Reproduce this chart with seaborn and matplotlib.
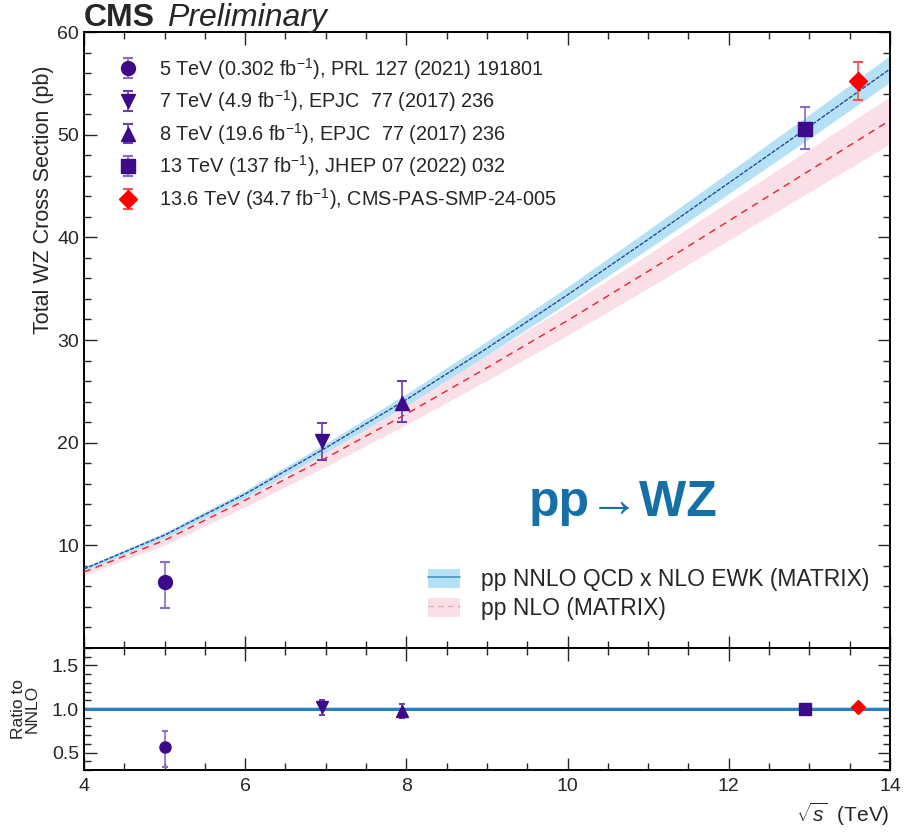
import numpy as np
import pandas as pd
import matplotlib
matplotlib.use("Agg")
import matplotlib.pyplot as plt
import seaborn as sns
from matplotlib.ticker import MultipleLocator, FixedLocator
from matplotlib.patches import Patch
from matplotlib.lines import Line2D

# ---------------- data ----------------
sqrt_s_theory = [4, 5, 6, 7, 8, 9, 10, 11, 12, 13, 14]
nnlo_xs = [7.7, 11.0, 15.0, 19.5, 24.2, 29.2, 34.4, 39.8, 45.3, 50.8, 56.4]
nnlo_unc = [0.18, 0.25, 0.35, 0.45, 0.56, 0.67, 0.79, 0.92, 1.04, 1.17, 1.30]
nlo_xs = [7.4, 10.5, 14.4, 18.5, 22.8, 27.3, 31.9, 36.7, 41.6, 46.5, 51.4]
nlo_unc = [0.33, 0.47, 0.65, 0.83, 1.03, 1.23, 1.44, 1.65, 1.87, 2.09, 2.31]

meas_x = [5.0, 6.95, 7.95, 12.95, 13.6]
meas_xs = [6.4, 20.2, 23.9, 50.6, 55.2]
meas_up = [2.0, 1.7, 2.1, 2.1, 1.9]
meas_dn = [2.5, 1.9, 1.9, 2.0, 1.8]
ratio = [0.57, 1.02, 0.98, 1.00, 1.02]
ratio_up = [0.18, 0.08, 0.08, 0.04, 0.035]
ratio_dn = [0.24, 0.09, 0.08, 0.04, 0.035]
ratio_band = 0.023

labels = [
    r"5 TeV (0.302 fb$^{-1}$), PRL 127 (2021) 191801",
    r"7 TeV (4.9 fb$^{-1}$), EPJC  77 (2017) 236",
    r"8 TeV (19.6 fb$^{-1}$), EPJC  77 (2017) 236",
    r"13 TeV (137 fb$^{-1}$), JHEP 07 (2022) 032",
    r"13.6 TeV (34.7 fb$^{-1}$), CMS-PAS-SMP-24-005",
]
theory_labels = ["pp NNLO QCD x NLO EWK (MATRIX)", "pp NLO (MATRIX)"]
markers = ["o", "v", "^", "s", "D"]
mcolors = ["#3d0a8a", "#3d0a8a", "#3d0a8a", "#3d0a8a", "#ff0000"]
ecolors = ["#8a6cc0", "#6a3fb0", "#6a3fb0", "#8a6cc0", "#ff5050"]
msizes = [10, 10, 10, 10, 9]

theory = pd.DataFrame({"sqrt_s": sqrt_s_theory, "nnlo": nnlo_xs, "nlo": nlo_xs,
                       "nnlo_unc": nnlo_unc, "nlo_unc": nlo_unc})

# ---------------- style ----------------
sns.set_style("ticks")
plt.rcParams["font.family"] = ["Liberation Sans", "DejaVu Sans"]
plt.rcParams["mathtext.fontset"] = "custom"
plt.rcParams["mathtext.rm"] = "Liberation Sans"
plt.rcParams["mathtext.it"] = "Liberation Sans:italic"
plt.rcParams["mathtext.bf"] = "Liberation Sans:bold"

fig = plt.figure(figsize=(9.05, 8.34), dpi=100)
ax = fig.add_axes([0.0928, 0.223, 0.8906, 0.7386])
axr = fig.add_axes([0.0928, 0.0767, 0.8906, 0.1463], sharex=ax)

blue_band = "#b5e1f7"
pink_band = "#fbdfe7"

# theory bands
ax.fill_between(theory["sqrt_s"], theory["nlo"] - theory["nlo_unc"],
                theory["nlo"] + theory["nlo_unc"], color=pink_band, lw=0, zorder=1)
ax.fill_between(theory["sqrt_s"], theory["nnlo"] - theory["nnlo_unc"],
                theory["nnlo"] + theory["nnlo_unc"], color=blue_band, lw=0, zorder=2)
sns.lineplot(data=theory, x="sqrt_s", y="nlo", ax=ax, color="#e8202a", lw=1.0,
             zorder=3)
ax.lines[-1].set_linestyle((0, (5, 4)))
sns.lineplot(data=theory, x="sqrt_s", y="nnlo", ax=ax, color="#234a9a", lw=1.0,
             zorder=4)
ax.lines[-1].set_linestyle((0, (3, 1)))

# measurements
handles = []
for i in range(len(meas_x)):
    h = ax.errorbar([meas_x[i]], [meas_xs[i]], yerr=[[meas_dn[i]], [meas_up[i]]],
                    fmt=markers[i], color=mcolors[i], ecolor=ecolors[i],
                    markersize=msizes[i], elinewidth=1.2, capsize=3.5, capthick=1.5,
                    label=labels[i], zorder=6)
    handles.append(h)
    axr.errorbar([meas_x[i]], [ratio[i]], yerr=[[ratio_dn[i]], [ratio_up[i]]],
                 fmt=markers[i], color=mcolors[i], ecolor=ecolors[i],
                 markersize=msizes[i] * 0.8, elinewidth=1.2, capsize=2.5, capthick=1.5,
                 zorder=6)

leg1 = ax.legend(handles=handles, loc="upper left", bbox_to_anchor=(0.02, 0.981),
                 frameon=False, fontsize=14.3, labelspacing=0.335, handletextpad=0.75,
                 handlelength=1.6, borderaxespad=0.2)
ax.add_artist(leg1)

h_nnlo = (Patch(facecolor=blue_band, edgecolor="none"),
          Line2D([], [], color="#4a90c9", lw=1.2))
h_nlo = (Patch(facecolor=pink_band, edgecolor="none"),
         Line2D([], [], color="#f4a3b5", lw=1.0, ls=(0, (4, 3))))
ax.legend([h_nnlo, h_nlo], theory_labels,
          loc="lower right", bbox_to_anchor=(1.0, 0.012), frameon=False, fontsize=16.5,
          handlelength=1.4, handleheight=0.9, handletextpad=0.9, labelspacing=0.26)

ax.text(0.552, 0.235, "pp\u2192WZ", transform=ax.transAxes, fontsize=36,
        fontweight="bold", color="#1570a8", ha="left", va="center",
        family=["Liberation Sans", "DejaVu Sans"])

# ratio panel
axr.axhspan(1 - ratio_band, 1 + ratio_band, color=blue_band, lw=0, zorder=1)
axr.axhline(1.0, color="#2b7fc0", lw=2.2, zorder=2)

# axes setup
ax.set_xlim(4, 14)
ax.set_ylim(0, 60)
axr.set_ylim(0.3, 1.7)
ax.yaxis.set_major_locator(FixedLocator([10, 20, 30, 40, 50, 60]))
ax.yaxis.set_minor_locator(MultipleLocator(2))
ax.xaxis.set_major_locator(MultipleLocator(2))
ax.xaxis.set_minor_locator(MultipleLocator(0.5))
axr.yaxis.set_major_locator(FixedLocator([0.5, 1.0, 1.5]))
axr.yaxis.set_minor_locator(MultipleLocator(0.1))
axr.yaxis.set_major_formatter(matplotlib.ticker.FormatStrFormatter("%.1f"))

for a in (ax, axr):
    a.tick_params(which="both", direction="in", top=True, right=True, width=1.0)
    a.tick_params(which="major", length=9, labelsize=14)
    a.tick_params(which="minor", length=5)
    for s in a.spines.values():
        s.set_linewidth(1.4)
        s.set_color("black")
plt.setp(ax.get_xticklabels(), visible=False)
ax.set_xlabel("")
ax.set_ylabel("Total WZ Cross Section (pb)", fontsize=15.5)
ax.yaxis.set_label_coords(-0.037, 0.727)
axr.set_ylabel("Ratio to\nNNLO", fontsize=12.5, linespacing=0.9)
axr.yaxis.set_label_coords(-0.055, 0.5)
axr.set_xlabel(r"$\sqrt{s}$  (TeV)", fontsize=15, loc="right")
axr.tick_params(axis="x", pad=6)

fig.text(0.093, 0.969, "CMS", fontsize=23, fontweight="bold", ha="left", va="baseline")
fig.text(0.185, 0.969, "Preliminary", fontsize=23, style="italic", ha="left",
         va="baseline")

fig.savefig("out.png", dpi=100)
